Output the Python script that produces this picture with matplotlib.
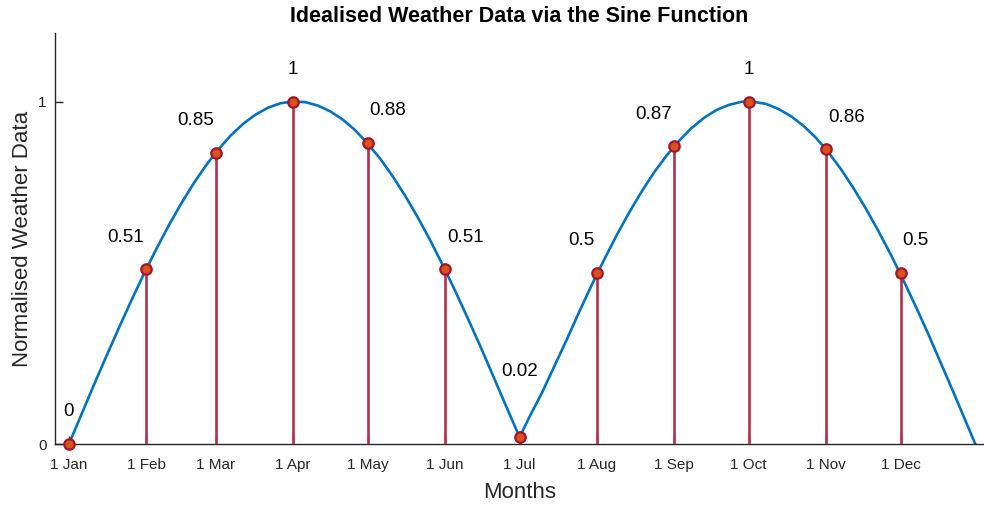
import matplotlib
matplotlib.use('Agg')
import matplotlib.pyplot as plt

plt.rcParams['font.family'] = ['Liberation Sans', 'DejaVu Sans']

# smooth curve (day of year, value)
curve_days = [0, 5, 10, 15, 20, 25, 30, 35, 40, 45, 50, 55, 60, 65, 70, 75, 80,
              85, 90, 95, 100, 105, 110, 115, 120, 125, 130, 135, 140, 145, 150,
              155, 160, 165, 170, 175, 181, 185, 190, 195, 200, 205, 210, 215,
              220, 225, 230, 235, 240, 245, 250, 255, 260, 265, 270, 275, 280,
              285, 290, 295, 300, 305, 310, 315, 320, 325, 330, 335, 340, 345,
              350, 355, 360, 364]
curve_vals = [0.0, 0.086, 0.172, 0.256, 0.338, 0.418, 0.495, 0.568, 0.637, 0.701,
              0.760, 0.813, 0.860, 0.901, 0.935, 0.962, 0.982, 0.995, 1.0, 0.998,
              0.988, 0.971, 0.947, 0.916, 0.877, 0.833, 0.782, 0.725, 0.663, 0.596,
              0.524, 0.449, 0.370, 0.289, 0.205, 0.120, 0.02, 0.08, 0.15, 0.228,
              0.306, 0.387, 0.465, 0.539, 0.610, 0.676, 0.737, 0.793, 0.842, 0.885,
              0.922, 0.952, 0.975, 0.990, 0.999, 0.999, 0.993, 0.978, 0.957, 0.929,
              0.894, 0.852, 0.803, 0.748, 0.688, 0.623, 0.554, 0.480, 0.403, 0.323,
              0.239, 0.155, 0.069, 0.0]

# first day of each month
month_days = [0, 31, 59, 90, 120, 151, 181, 212, 243, 273, 304, 334]
month_labels = ['1 Jan', '1 Feb', '1 Mar', '1 Apr', '1 May', '1 Jun',
                '1 Jul', '1 Aug', '1 Sep', '1 Oct', '1 Nov', '1 Dec']
month_vals = [0, 0.51, 0.85, 1, 0.88, 0.51, 0.02, 0.5, 0.87, 1, 0.86, 0.5]
val_text = ['0', '0.51', '0.85', '1', '0.88', '0.51', '0.02', '0.5', '0.87', '1', '0.86', '0.5']

# label placement (style only)
label_ha = ['center', 'right', 'right', 'center', 'left', 'left',
            'center', 'right', 'right', 'center', 'left', 'left']

blue = '#0072BD'
stem_col = '#B0304E'
face_col = '#D95319'
edge_col = '#A2142F'
axis_col = '#262626'

fig = plt.figure(figsize=(9.84, 5.07), dpi=100)
ax = fig.add_axes([55 / 984, 63 / 507, 929 / 984, 411 / 507])

ax.plot(curve_days, curve_vals, color=blue, lw=1.9, zorder=2)
ax.vlines(month_days, 0, month_vals, color=stem_col, lw=1.9, zorder=3)
ax.plot(month_days, month_vals, 'o', ms=7.5, mfc=face_col, mec=edge_col,
        mew=1.6, zorder=4, clip_on=False)

for d, v, t, ha in zip(month_days, month_vals, val_text, label_ha):
    dx = {'center': 0, 'right': -2, 'left': 2}[ha]
    dy = 66 if t == '0.02' else 32
    ax.annotate(t, (d, v), xytext=(dx, dy), textcoords='offset pixels',
                ha=ha, va='center', fontsize=13.5, color='black')

ax.set_xlim(-5.6, 367.5)
ax.set_ylim(0, 1.2)
ax.set_xticks(month_days)
ax.set_xticklabels(month_labels)
ax.set_yticks([0, 1])
ax.tick_params(axis='both', direction='in', length=6, width=1, color=axis_col,
               labelsize=11, labelcolor=axis_col)
ax.tick_params(axis='x', pad=10)
ax.tick_params(axis='y', pad=6)

for s in ['top', 'right']:
    ax.spines[s].set_visible(False)
for s in ['left', 'bottom']:
    ax.spines[s].set_color(axis_col)
    ax.spines[s].set_linewidth(1)

ax.set_xlabel('Months', fontsize=16, color=axis_col, labelpad=7)
ax.set_ylabel('Normalised Weather Data', fontsize=16, color=axis_col, labelpad=4)
ax.set_title('Idealised Weather Data via the Sine Function', fontsize=15.5,
             fontweight='bold', pad=8)

fig.savefig('out.png', dpi=100)
